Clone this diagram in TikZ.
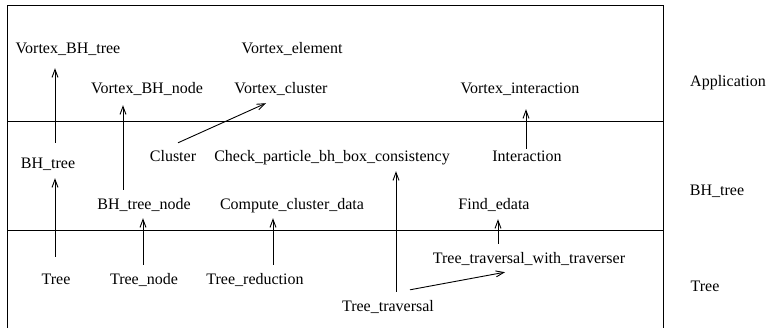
\documentclass[tikz,border=0pt]{standalone}
\usepackage{fontspec}
\setmainfont{Liberation Serif}
\usetikzlibrary{arrows.meta}
\tikzset{
  lbl/.style={inner sep=0pt, text height=11pt, text depth=3pt, font=\fontsize{16}{19}\selectfont},
  arr/.style={-{Straight Barb[length=8pt,width=6pt]}, line width=0.9pt},
  frame/.style={line width=1pt}
}
\begin{document}
\begin{tikzpicture}[x=1pt,y=-1pt]
\useasboundingbox (0,0) rectangle (767,328);
% frame
\draw[frame] (7,330) -- (7,6) -- (663,6) -- (663,330);
\draw[frame] (7,122) -- (663,122);
\draw[frame] (7,231) -- (663,231);
% layer labels
\node[lbl] (appl) at (728,83) {Application};
\node[lbl] (bhl) at (717,192) {BH\_tree};
\node[lbl] (treel) at (705,287) {Tree};
% application layer
\node[lbl] (vbht) at (68,50) {Vortex\_BH\_tree};
\node[lbl] (velem) at (292,50) {Vortex\_element};
\node[lbl] (vbhn) at (147,90) {Vortex\_BH\_node};
\node[lbl] (vclus) at (281,90) {Vortex\_cluster};
\node[lbl] (vint) at (520,90) {Vortex\_interaction};
% BH_tree layer
\node[lbl] (bht) at (48,165) {BH\_tree};
\node[lbl] (clus) at (173,158) {Cluster};
\node[lbl] (check) at (332,158) {Check\_particle\_bh\_box\_consistency};
\node[lbl] (inter) at (527,158) {Interaction};
\node[lbl] (bhtn) at (144,206) {BH\_tree\_node};
\node[lbl] (ccd) at (292,206) {Compute\_cluster\_data};
\node[lbl] (fed) at (494,206) {Find\_edata};
% Tree layer
\node[lbl] (tree) at (56,280) {Tree};
\node[lbl] (tnode) at (144,280) {Tree\_node};
\node[lbl] (tred) at (255,280) {Tree\_reduction};
\node[lbl] (ttwt) at (529,260) {Tree\_traversal\_with\_traverser};
\node[lbl] (ttrav) at (388,307) {Tree\_traversal};
% connectors
\draw[arr] ([shift={(-1,-16)}]tree.north) -- ([shift={(7,6)}]bht.south);
\draw[arr] ([shift={(7,-15)}]bht.north) -- ([shift={(-13,11)}]vbht.south);
\draw[arr] ([shift={(-21,-9)}]bhtn.north) -- ([shift={(-24,8)}]vbhn.south);
\draw[arr] ([shift={(-1,-8)}]tnode.north) -- ([shift={(-1,5)}]bhtn.south);
\draw[arr] ([shift={(18,-8)}]tred.north) -- ([shift={(-19,5)}]ccd.south);
\draw[arr] ([shift={(8,-8)}]ttrav.north) -- ([shift={(64,6)}]check.south);
\draw[arr] ([shift={(22,-10)}]ttrav.north) -- ([shift={(-24,5)}]ttwt.south);
\draw[arr] ([shift={(-31,-9)}]ttwt.north) -- ([shift={(4,6)}]fed.south);
\draw[arr] ([shift={(-1,-2)}]inter.north) -- ([shift={(6,12)}]vint.south);
\draw[arr] ([shift={(5,-8)}]clus.north) -- ([shift={(-15,6)}]vclus.south);
\end{tikzpicture}
\end{document}
